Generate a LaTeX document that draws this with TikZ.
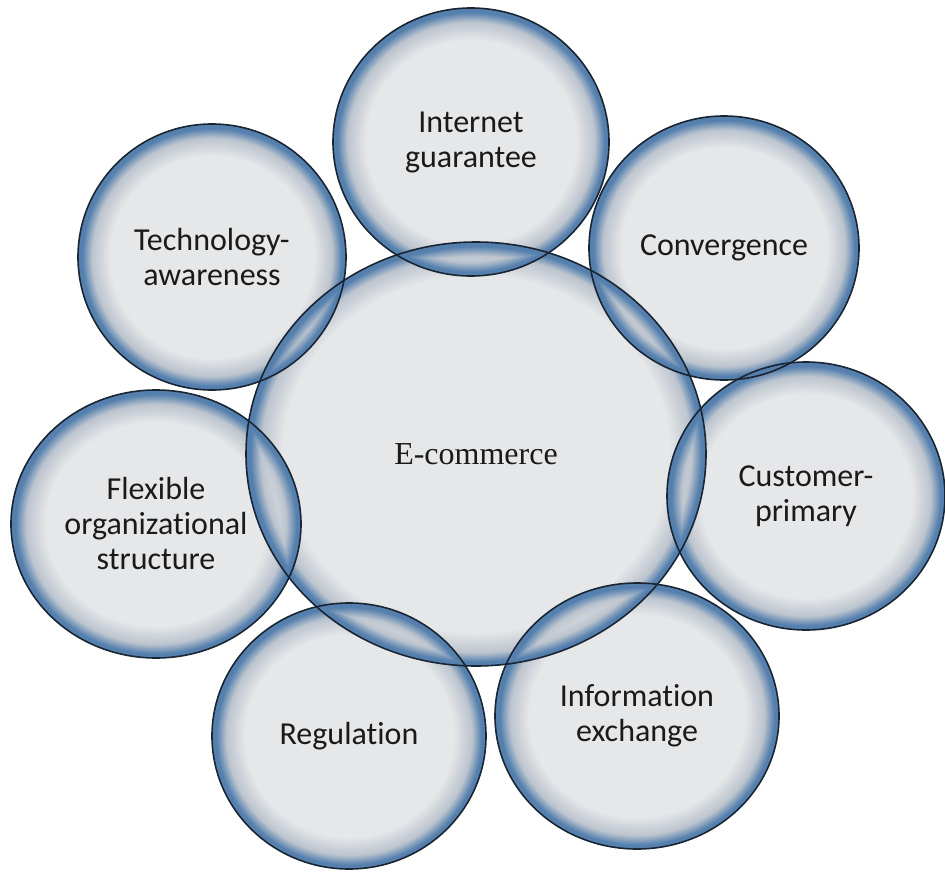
\documentclass[tikz,border=0pt]{standalone}
\usepackage{fontspec}
\setmainfont{Carlito}[Ligatures=NoCommon]
\newfontfamily\hubfont{Liberation Serif}
\usetikzlibrary{shapes.geometric}

\definecolor{bubblegray}{HTML}{E6E7E9}
\definecolor{bubblemid}{HTML}{BCC4CE}
\definecolor{bubbleblue}{HTML}{5580AE}
\definecolor{rimline}{HTML}{1A2533}
\definecolor{labelink}{HTML}{1A1A1A}

% soft grey disc that turns blue towards its rim
\pgfdeclareradialshading{bubble}{\pgfpoint{0bp}{0bp}}{%
  color(0bp)=(bubblegray); color(19bp)=(bubblegray);
  color(22.4bp)=(bubblemid); color(24.2bp)=(bubbleblue);
  color(25bp)=(bubbleblue); color(50bp)=(bubbleblue)}
% same look for the large central disc, with a narrower rim band
\pgfdeclareradialshading{hubshade}{\pgfpoint{0bp}{0bp}}{%
  color(0bp)=(bubblegray); color(21bp)=(bubblegray);
  color(23.4bp)=(bubblemid); color(24.5bp)=(bubbleblue);
  color(25bp)=(bubbleblue); color(50bp)=(bubbleblue)}

\tikzset{
  bubblefill/.style={ellipse, inner sep=0pt, shading=bubble},
  hubfill/.style={ellipse, inner sep=0pt, shading=hubshade},
  rim/.style={ellipse, inner sep=0pt, draw=rimline, line width=1.6pt,
    text=labelink, align=center, font=\fontsize{32}{35}\selectfont},
  hubrim/.style={rim, font=\hubfont\fontsize{32}{36}\selectfont},
}

\begin{document}
\begin{tikzpicture}[x=1pt,y=-1pt]
\useasboundingbox (0,0) rectangle (945,872);

% shaded discs; where two overlap the darker (bluer) tone wins
\begin{scope}[blend mode=darken]
  \node[hubfill,    minimum width=460pt, minimum height=424pt] (fhub)  at (476,454) {};
  \node[bubblefill, minimum width=276pt, minimum height=268pt] (fnet)  at (471,142) {};
  \node[bubblefill, minimum width=270pt, minimum height=264pt] (fconv) at (724,248) {};
  \node[bubblefill, minimum width=278pt, minimum height=268pt] (fcust) at (806,496) {};
  \node[bubblefill, minimum width=284pt, minimum height=266pt] (finfo) at (637,716) {};
  \node[bubblefill, minimum width=274pt, minimum height=266pt] (freg)  at (349,736) {};
  \node[bubblefill, minimum width=290pt, minimum height=268pt] (fflex) at (156,524) {};
  \node[bubblefill, minimum width=268pt, minimum height=266pt] (ftech) at (212,257) {};
\end{scope}

% outlines and labels
\node[hubrim, minimum width=460pt, minimum height=424pt] (hub)  at (fhub)  {E-commerce};
\node[rim, minimum width=276pt, minimum height=268pt] (net)  at (fnet)  {Internet\\guarantee};
\node[rim, minimum width=270pt, minimum height=264pt] (conv) at (fconv) {Convergence};
\node[rim, minimum width=278pt, minimum height=268pt] (cust) at (fcust) {Customer-\\primary};
\node[rim, minimum width=284pt, minimum height=266pt] (info) at (finfo) {Information\\exchange};
\node[rim, minimum width=274pt, minimum height=266pt] (reg)  at (freg)  {Regulation};
\node[rim, minimum width=290pt, minimum height=268pt] (flex) at (fflex) {Flexible\\organizational\\structure};
\node[rim, minimum width=268pt, minimum height=266pt] (tech) at (ftech) {Technology-\\awareness};
\end{tikzpicture}
\end{document}
